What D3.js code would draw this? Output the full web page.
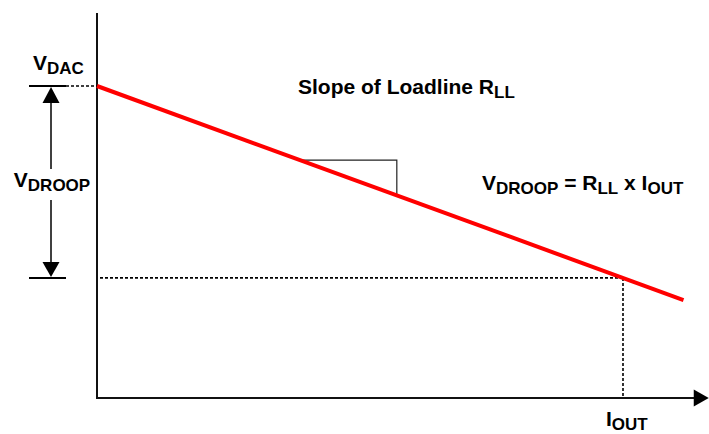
<!DOCTYPE html>
<html>
<head>
<meta charset="utf-8">
<script src="https://cdn.jsdelivr.net/npm/d3@7"></script>
<style>
  html, body { margin: 0; padding: 0; background: #fff; }
  svg { display: block; font-family: "Liberation Sans", Arial, Helvetica, sans-serif; font-weight: bold; }
</style>
</head>
<body>
<div id="viz"></div>
<script>
// loadline values (normalised units: current in I_OUT, voltage in V_DAC)
const loadCurrent = [0, 1.115];
const loadVoltage = [1.0, 0.314];
const vDac = 1.0;
const iOut = 1.0;
const vAtIout = 0.385;
const slopeRun = [0.386, 0.570];   // current range of the slope triangle
const axisCurrentMax = 1.163;
const axisVoltageMax = 1.234;

const width = 709,
      height = 434;

const x = d3.scaleLinear().domain([0, 1]).range([97, 623]);
const y = d3.scaleLinear().domain([0, 1]).range([398, 86]);

const svg = d3.select("#viz")
    .append("svg")
    .attr("width", width)
    .attr("height", height);

// axes
svg.append("line")
    .attr("x1", x(0)).attr("x2", x(0))
    .attr("y1", y(axisVoltageMax)).attr("y2", y(0) + 1)
    .attr("stroke", "#111").attr("stroke-width", 2);
svg.append("line")
    .attr("x1", x(0) - 1).attr("x2", x(axisCurrentMax) - 12)
    .attr("y1", y(0)).attr("y2", y(0))
    .attr("stroke", "#111").attr("stroke-width", 2);
// x axis arrow head
const ax = x(axisCurrentMax);
svg.append("path")
    .attr("d", `M${ax},${y(0)} L${ax - 15},${y(0) - 8.5} L${ax - 15},${y(0) + 8.5} Z`)
    .attr("fill", "#000");

// dotted guides
const dash = "3,2";
svg.append("line")
    .attr("x1", x(0) + 3).attr("x2", x(iOut))
    .attr("y1", y(vAtIout)).attr("y2", y(vAtIout))
    .attr("stroke", "#000").attr("stroke-width", 1.6)
    .attr("stroke-dasharray", dash);
svg.append("line")
    .attr("x1", x(iOut)).attr("x2", x(iOut))
    .attr("y1", y(vAtIout)).attr("y2", y(0))
    .attr("stroke", "#000").attr("stroke-width", 1.6)
    .attr("stroke-dasharray", dash);
svg.append("line")
    .attr("x1", 66).attr("x2", x(0))
    .attr("y1", y(vDac)).attr("y2", y(vDac))
    .attr("stroke", "#000").attr("stroke-width", 1.6)
    .attr("stroke-dasharray", dash);

// slope triangle
const rll = (loadVoltage[0] - loadVoltage[1]) / (loadCurrent[1] - loadCurrent[0]);
const vLine = i => loadVoltage[0] - rll * (i - loadCurrent[0]);
svg.append("path")
    .attr("d", `M${x(slopeRun[0])},${y(vLine(slopeRun[0]))} H${x(slopeRun[1])} V${y(vLine(slopeRun[1]))}`)
    .attr("fill", "none")
    .attr("stroke", "#222").attr("stroke-width", 1.2);

// loadline
svg.append("line")
    .attr("x1", x(loadCurrent[0])).attr("y1", y(loadVoltage[0]))
    .attr("x2", x(loadCurrent[1])).attr("y2", y(loadVoltage[1]))
    .attr("stroke", "#ff0000").attr("stroke-width", 4);

// V_DROOP dimension arrow
const ar = 51;
svg.append("line").attr("x1", 29).attr("x2", 66)
    .attr("y1", y(vDac)).attr("y2", y(vDac))
    .attr("stroke", "#000").attr("stroke-width", 2);
svg.append("line").attr("x1", 29).attr("x2", 66)
    .attr("y1", y(vAtIout)).attr("y2", y(vAtIout))
    .attr("stroke", "#000").attr("stroke-width", 2);
svg.append("line").attr("x1", ar).attr("x2", ar)
    .attr("y1", y(vDac) + 15).attr("y2", 169)
    .attr("stroke", "#000").attr("stroke-width", 1.5);
svg.append("line").attr("x1", ar).attr("x2", ar)
    .attr("y1", 200).attr("y2", y(vAtIout) - 15)
    .attr("stroke", "#000").attr("stroke-width", 1.5);
svg.append("path")
    .attr("d", `M${ar},${y(vDac) + 1} L${ar - 8.5},${y(vDac) + 17} L${ar + 8.5},${y(vDac) + 17} Z`)
    .attr("fill", "#000");
svg.append("path")
    .attr("d", `M${ar},${y(vAtIout) - 1} L${ar - 8.5},${y(vAtIout) - 16} L${ar + 8.5},${y(vAtIout) - 16} Z`)
    .attr("fill", "#000");

// labels: list of [text, isSubscript] pieces
const mainSize = "21px", subSize = "17px";
function label(px, py, parts, anchor) {
    const t = svg.append("text")
        .attr("x", px).attr("y", py)
        .attr("text-anchor", anchor || "start")
        .attr("fill", "#000");
    let shifted = false;
    parts.forEach(p => {
        const s = t.append("tspan").text(p[0]);
        if (p[1] && !shifted) { s.attr("dy", 4); shifted = true; }
        else if (!p[1] && shifted) { s.attr("dy", -4); shifted = false; }
        s.style("font-size", p[1] ? subSize : mainSize);
    });
}

label(33, 70, [["V"], ["DAC", 1]]);
label(52, 187, [["V"], ["DROOP", 1]], "middle");
label(298, 94, [["Slope of Loadline R"], ["LL", 1]]);
label(482, 190, [["V"], ["DROOP", 1], [" = R"], ["LL", 1], [" x I"], ["OUT", 1]]);
label(606, 426, [["I"], ["OUT", 1]]);
</script>
</body>
</html>
